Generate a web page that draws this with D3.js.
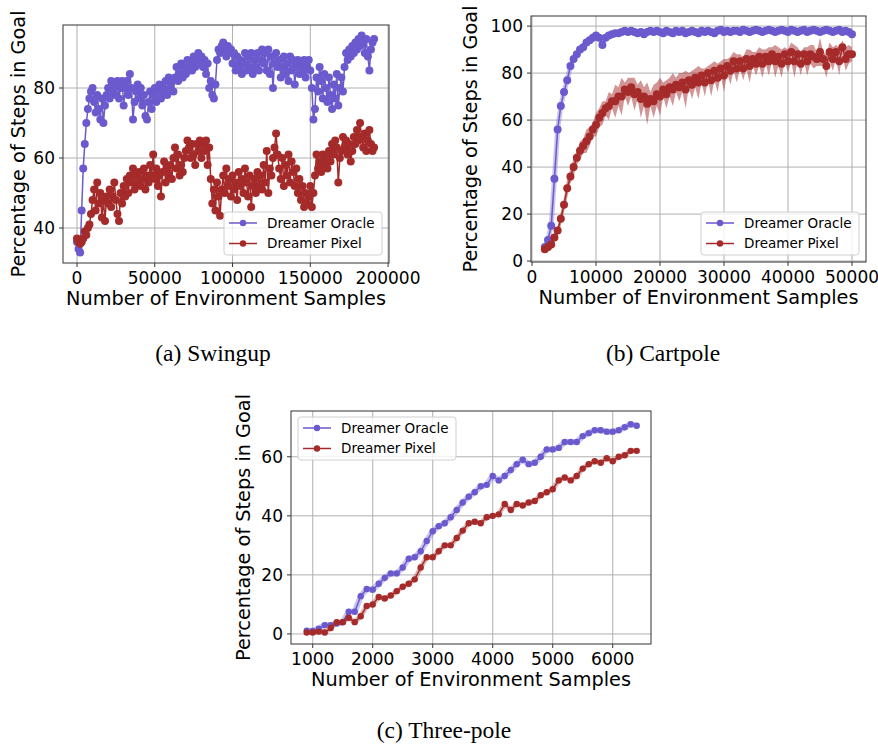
<!DOCTYPE html>
<html>
<head>
<meta charset="utf-8">
<script src="https://cdn.jsdelivr.net/npm/d3@7"></script>
<style>
  body { margin: 0; background: #fff; }
  text { font-family: "DejaVu Sans", sans-serif; fill: #000; }
  .caption { font-family: "Liberation Serif", "Times New Roman", serif; }
</style>
</head>
<body>
<div id="chart"></div>
<script>
const W = 878, H = 747;
const oracleColor = "#6a5acd";
const pixelColor = "#a52a2a";
const seriesNames = ["Dreamer Oracle", "Dreamer Pixel"];

// (a) Swingup - one value every 1000 samples, starting at 0
const swingStart = 0, swingStep = 1000;
const swingOracle = [
  36, 34, 33, 45, 57, 64, 70, 74, 77, 79,
  80, 76, 73, 78, 74, 71, 77, 70, 75, 78,
  80, 77, 82, 79, 81, 78, 82, 77, 80, 82,
  75, 80, 82, 78, 84, 80, 71, 76, 79, 81,
  77, 80, 75, 78, 72, 71, 76, 79, 74, 78,
  80, 76, 79, 81, 77, 80, 79, 82, 78, 83,
  80, 82, 79, 83, 86, 82, 84, 87, 83, 86,
  84, 88, 85, 87, 85, 89, 86, 88, 90, 87,
  89, 86, 88, 84, 87, 80, 82, 78, 77, 81,
  88, 91, 90, 92, 93, 91, 89, 92, 90, 91,
  87, 90, 85, 89, 86, 88, 84, 87, 90, 85,
  89, 86, 90, 84, 88, 86, 90, 85, 88, 91,
  87, 90, 85, 91, 84, 89, 80, 87, 90, 86,
  88, 83, 86, 89, 84, 87, 82, 89, 85, 88,
  81, 86, 88, 84, 87, 85, 88, 83, 86, 88,
  85, 80, 71, 74, 83, 79, 86, 82, 77, 84,
  80, 76, 83, 78, 74, 81, 77, 84, 75, 80,
  83, 79, 86, 90, 88, 91, 89, 92, 90, 93,
  91, 94, 92, 95, 93, 90, 94, 89, 85, 91,
  93, 94
];
const swingPixel = [
  37, 36, 35.5, 36, 37, 39, 38, 40, 41, 44,
  48, 51, 45, 53, 47, 50, 43, 48, 42, 49,
  47, 51, 46, 49, 53, 48, 44, 42, 50, 47,
  52, 49, 54, 50, 55, 53, 57, 51, 55, 53,
  56, 52, 54, 57, 51, 55, 53, 58, 55, 61,
  54, 57, 52, 55, 49, 56, 59, 53, 57, 55,
  58, 54, 60, 63, 57, 61, 55, 58, 56, 60,
  62, 65, 63, 60, 64, 61, 58, 64, 62, 65,
  60, 64, 62, 65, 58, 63, 54, 47, 51, 45,
  53, 49, 43.5, 51, 55, 50, 57, 52, 54, 49,
  55, 51, 53, 48, 56, 52, 54, 50, 57, 53,
  49, 55, 46, 52, 54, 50, 56, 52, 55, 51,
  58, 53, 62, 50, 57, 55, 60, 63, 67, 61,
  57, 54, 60, 52, 58, 55, 61, 53, 59, 56,
  52, 57, 50, 54, 48, 52, 46, 50, 47, 49,
  52, 46, 50, 55, 61, 57, 59, 56, 61, 58,
  60, 57, 62, 59, 64, 61, 65, 63, 53, 60,
  62, 66, 63, 65, 61, 64, 59, 62, 66, 64,
  68, 65, 70, 66, 63, 67, 62, 65, 68, 64,
  62, 63
];
const swingXTicks = [0, 50000, 100000, 150000, 200000];
const swingYTicks = [40, 60, 80];

// (b) Cartpole - one value every 500 samples, starting at 2000
const cartStart = 2000, cartStep = 500;
const cartOracle = [
  6, 9, 15, 35, 56, 66, 72, 77, 83, 86,
  88, 90, 91, 93, 94, 95, 96, 95, 92, 95,
  96, 96.5, 97, 97, 97.5, 98, 97.5, 98, 97.5, 97,
  97.5, 96.5, 97.5, 98, 97.5, 98, 97.5, 97, 98, 97.5,
  97, 98, 97.5, 98, 97, 97.5, 98, 97.5, 97, 98,
  97.5, 98, 97.5, 97, 98, 98.5, 97.5, 98, 97.5, 98,
  98, 97.5, 98.5, 98, 97.5, 98, 98.5, 98, 97.5, 98,
  98.5, 98, 97.5, 98, 98.5, 98, 97.5, 98.5, 98, 97.5,
  98, 98.5, 97.5, 98, 98.5, 98, 97.5, 98, 98.5, 98,
  97.5, 98, 98.5, 97.5, 98, 97.5, 96.5
];
const cartPixel = [
  5, 6, 7, 10, 13, 18, 24, 31, 36, 40,
  44, 47, 49, 51, 53, 56, 58, 61, 63, 65,
  66, 68, 68, 70, 70, 73, 72, 74, 71, 72,
  69, 70, 67, 69, 68, 71, 70, 73, 71, 74,
  73, 75, 74, 76, 73, 77, 75, 78, 76, 79,
  76, 80, 77, 81, 78, 82, 79, 83, 81, 85,
  82, 85, 82, 86, 83, 86, 84, 87, 84, 87,
  85, 88, 85, 87, 84, 88, 85, 89, 85, 88,
  84, 88, 85, 88, 87, 86, 89, 86, 83, 89,
  86, 89, 85, 91, 86, 88, 88
];
const cartPixelStd = [
  1, 1, 1.5, 2, 2, 3, 3, 4, 3, 4,
  3, 4, 3, 5, 4, 3, 5, 4, 5, 3,
  6, 3, 7, 4, 8, 3, 6, 4, 7, 3,
  8, 4, 9, 3, 7, 5, 8, 3, 6, 4,
  7, 3, 6, 4, 8, 3, 6, 4, 7, 3,
  6, 3, 7, 4, 6, 3, 7, 3, 6, 4,
  6, 3, 5, 4, 7, 3, 5, 4, 6, 3,
  6, 3, 7, 4, 6, 3, 5, 4, 7, 3,
  5, 3, 6, 4, 5, 3, 6, 3, 5, 4,
  5, 3, 6, 3, 5, 4, 3
];
const cartXTicks = [0, 10000, 20000, 30000, 40000, 50000];
const cartYTicks = [0, 20, 40, 60, 80, 100];

// (c) Three-pole - one value every 100 samples, starting at 900
const threeStart = 900, threeStep = 100;
const threeOracle = [
  1.1, 1, 1.8, 3, 3, 3.5, 4, 7.5, 7.5, 12.8,
  15.2, 15, 17, 19, 20.5, 20.5, 22.5, 25.5, 26, 28,
  31.5, 34.8, 36.5, 37.5, 39.5, 42, 44.5, 46.5, 48, 50,
  50.5, 53.5, 52, 53.5, 55.5, 57.5, 59, 57.5, 58, 60,
  62.5, 62.5, 63, 65, 65, 65, 67, 68, 69, 69,
  68.5, 68.5, 69, 70, 71, 70.5
];
const threePixel = [
  0.5, 0.5, 0.8, 0.5, 2, 4, 4, 5.5, 4, 6,
  9.5, 10, 12.5, 12, 13, 14.5, 16, 17, 18.5, 22.5,
  26, 26, 28, 30, 30, 32.5, 35, 37.5, 38, 37.5,
  39.5, 40, 40.5, 44, 42, 44, 43.5, 44.5, 45, 47,
  48, 49, 52, 53, 52, 53.5, 56, 57.5, 58.5, 58,
  59.5, 58.5, 60, 60.5, 62, 62
];
const threeXTicks = [1000, 2000, 3000, 4000, 5000, 6000];
const threeYTicks = [0, 20, 40, 60];

const xLabel = "Number of Environment Samples";
const yLabel = "Percentage of Steps in Goal";

const svg = d3.select("#chart").append("svg")
  .attr("width", W)
  .attr("height", H);

function toPoints(values, start, step, std) {
  return values.map((v, i) => ({ x: start + i * step, y: v, s: std ? std[i] : 0 }));
}

function drawPanel(p) {
  const x = d3.scaleLinear().domain(p.xDomain).range([p.left, p.right]);
  const y = d3.scaleLinear().domain(p.yDomain).range([p.bottom, p.top]);
  const g = svg.append("g");

  // grid
  g.append("g").selectAll("line").data(p.xTicks).enter().append("line")
    .attr("x1", d => x(d)).attr("x2", d => x(d))
    .attr("y1", p.top).attr("y2", p.bottom)
    .attr("stroke", "#b0b0b0").attr("stroke-width", 1);
  g.append("g").selectAll("line").data(p.yTicks).enter().append("line")
    .attr("y1", d => y(d)).attr("y2", d => y(d))
    .attr("x1", p.left).attr("x2", p.right)
    .attr("stroke", "#b0b0b0").attr("stroke-width", 1);

  const clipId = "clip" + p.id;
  svg.append("clipPath").attr("id", clipId).append("rect")
    .attr("x", p.left).attr("y", p.top)
    .attr("width", p.right - p.left).attr("height", p.bottom - p.top);
  const data = g.append("g").attr("clip-path", `url(#${clipId})`);

  const line = d3.line().x(d => x(d.x)).y(d => y(d.y));
  const area = d3.area().x(d => x(d.x)).y0(d => y(d.y - d.s)).y1(d => y(d.y + d.s));

  p.series.forEach(s => {
    if (s.band) {
      data.append("path").datum(s.points)
        .attr("d", area)
        .attr("fill", s.color).attr("opacity", 0.5);
    }
    if (s.halo) {
      data.append("path").datum(s.points)
        .attr("d", line)
        .attr("fill", "none").attr("stroke", s.color)
        .attr("stroke-width", s.halo).attr("opacity", 0.35)
        .attr("stroke-linejoin", "round");
    }
    data.append("path").datum(s.points)
      .attr("d", line)
      .attr("fill", "none").attr("stroke", s.color).attr("stroke-width", 1.5);
    data.append("g").selectAll("circle").data(s.points).enter().append("circle")
      .attr("cx", d => x(d.x)).attr("cy", d => y(d.y))
      .attr("r", p.r).attr("fill", s.color);
  });

  // frame
  g.append("rect")
    .attr("x", p.left).attr("y", p.top)
    .attr("width", p.right - p.left).attr("height", p.bottom - p.top)
    .attr("fill", "none").attr("stroke", "#333").attr("stroke-width", 1);

  // ticks
  const fmt = d3.format("d");
  g.append("g").selectAll("line").data(p.xTicks).enter().append("line")
    .attr("x1", d => x(d)).attr("x2", d => x(d))
    .attr("y1", p.bottom).attr("y2", p.bottom + 4)
    .attr("stroke", "#333");
  g.append("g").selectAll("text").data(p.xTicks).enter().append("text")
    .attr("x", d => x(d)).attr("y", p.bottom + 21)
    .attr("text-anchor", "middle").attr("font-size", 17)
    .text(fmt);
  g.append("g").selectAll("line").data(p.yTicks).enter().append("line")
    .attr("y1", d => y(d)).attr("y2", d => y(d))
    .attr("x1", p.left - 4).attr("x2", p.left)
    .attr("stroke", "#333");
  g.append("g").selectAll("text").data(p.yTicks).enter().append("text")
    .attr("x", p.left - 8).attr("y", d => y(d))
    .attr("dy", "0.36em")
    .attr("text-anchor", "end").attr("font-size", 17)
    .text(fmt);

  // axis labels
  g.append("text")
    .attr("x", (p.left + p.right) / 2).attr("y", p.bottom + 42)
    .attr("text-anchor", "middle").attr("font-size", 19.3)
    .text(xLabel);
  g.append("text")
    .attr("transform", `translate(${p.yLabelX},${(p.top + p.bottom) / 2}) rotate(-90)`)
    .attr("text-anchor", "middle").attr("font-size", 19.3)
    .text(yLabel);

  // legend
  const lg = g.append("g").attr("transform", `translate(${p.legend[0]},${p.legend[1]})`);
  lg.append("rect")
    .attr("width", 158).attr("height", 43).attr("rx", 3)
    .attr("fill", "#fff").attr("fill-opacity", 0.8)
    .attr("stroke", "#d0d0d0");
  p.series.forEach((s, i) => {
    const yy = 11 + i * 20.5;
    lg.append("line").attr("x1", 5).attr("x2", 33).attr("y1", yy).attr("y2", yy)
      .attr("stroke", s.color).attr("stroke-width", 1.5);
    lg.append("circle").attr("cx", 19).attr("cy", yy).attr("r", 3.2).attr("fill", s.color);
    lg.append("text").attr("x", 43).attr("y", yy).attr("dy", "0.36em")
      .attr("font-size", 13.5).text(s.name);
  });

  // caption
  if (p.caption) {
    svg.append("text").attr("class", "caption")
      .attr("x", p.caption[1]).attr("y", p.caption[2])
      .attr("text-anchor", "middle").attr("font-size", 23.5)
      .text(p.caption[0]);
  }
}

drawPanel({
  id: "a", left: 63, right: 389, top: 25, bottom: 263,
  xDomain: [-9000, 200600], yDomain: [30, 98],
  xTicks: swingXTicks, yTicks: swingYTicks, r: 4,
  yLabelX: 25, legend: [224, 212],
  caption: ["(a) Swingup", 213, 361],
  series: [
    { name: seriesNames[0], color: oracleColor, points: toPoints(swingOracle, swingStart, swingStep) },
    { name: seriesNames[1], color: pixelColor, points: toPoints(swingPixel, swingStart, swingStep) }
  ]
});

drawPanel({
  id: "b", left: 531, right: 866, top: 16, bottom: 262,
  xDomain: [-160, 52190], yDomain: [-0.4, 104.3],
  xTicks: cartXTicks, yTicks: cartYTicks, r: 4,
  yLabelX: 477, legend: [701, 212],
  caption: ["(b) Cartpole", 663, 361],
  series: [
    { name: seriesNames[0], color: oracleColor, halo: 5, points: toPoints(cartOracle, cartStart, cartStep) },
    { name: seriesNames[1], color: pixelColor, band: true, points: toPoints(cartPixel, cartStart, cartStep, cartPixelStd) }
  ]
});

drawPanel({
  id: "c", left: 291, right: 651, top: 411, bottom: 644,
  xDomain: [638, 6638], yDomain: [-3.4, 75.5],
  xTicks: threeXTicks, yTicks: threeYTicks, r: 3.2,
  yLabelX: 250, legend: [298, 417],
  caption: ["(c) Three-pole", 444, 738],
  series: [
    { name: seriesNames[0], color: oracleColor, halo: 6, points: toPoints(threeOracle, threeStart, threeStep) },
    { name: seriesNames[1], color: pixelColor, halo: 5, points: toPoints(threePixel, threeStart, threeStep) }
  ]
});
</script>
</body>
</html>
